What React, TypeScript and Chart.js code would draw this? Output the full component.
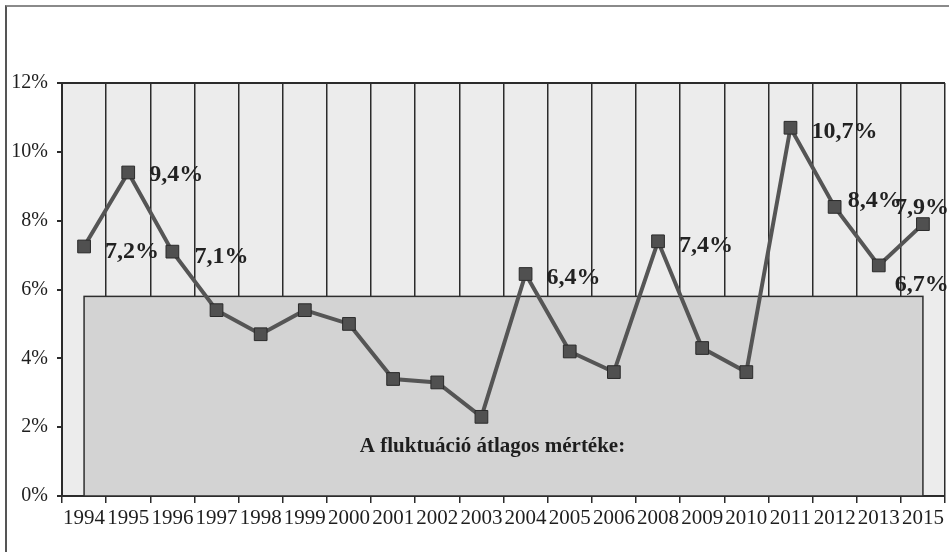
import { useEffect, useRef } from "react";
import { Chart, registerables } from "chart.js";

Chart.register(...registerables);

const YEARS = [
  "1994", "1995", "1996", "1997", "1998", "1999", "2000", "2001", "2002", "2003",
  "2004", "2005", "2006", "2008", "2009", "2010", "2011", "2012", "2013", "2015",
];
const RATES = [
  7.25, 9.4, 7.1, 5.4, 4.7, 5.4, 5.0, 3.4, 3.3, 2.3,
  6.45, 4.2, 3.6, 7.4, 4.3, 3.6, 10.7, 8.4, 6.7, 7.9,
];
const POINT_LABELS: (string | null)[] = [
  "7,2%", "9,4%", "7,1%", null, null, null, null, null, null, null,
  "6,4%", null, null, "7,4%", null, null, "10,7%", "8,4%", "6,7%", "7,9%",
];
const AVERAGE = 5.8;
const AVERAGE_LABEL = "A fluktuáció átlagos mértéke:";
const Y_TICKS = [0, 2, 4, 6, 8, 10, 12];

const SERIF = "'Liberation Serif', 'Times New Roman', serif";
const DEFAULT_OFFSET: [number, number] = [21, 4];
const LABEL_OFFSETS: Record<number, [number, number]> = {
  0: [21, 5],
  1: [21, 2],
  2: [22, 5],
  17: [13, -6],
  18: [16, 19],
  19: [-28, -16],
};

const decorPlugin = {
  id: "decor",
  beforeDraw(chart: any) {
    const { ctx, chartArea } = chart;
    ctx.save();
    ctx.fillStyle = "#ececec";
    ctx.fillRect(chartArea.left, chartArea.top, chartArea.right - chartArea.left, chartArea.bottom - chartArea.top);
    ctx.restore();
  },
  beforeDatasetsDraw(chart: any) {
    const { ctx } = chart;
    const x = chart.scales.x;
    const y = chart.scales.y;
    const x0 = x.getPixelForValue(0);
    const x1 = x.getPixelForValue(YEARS.length - 1);
    const yTop = y.getPixelForValue(AVERAGE);
    const yBot = y.getPixelForValue(0);
    ctx.save();
    ctx.fillStyle = "#d3d3d3";
    ctx.fillRect(x0, yTop, x1 - x0, yBot - yTop);
    ctx.strokeStyle = "#2e2e2e";
    ctx.lineWidth = 1.5;
    ctx.strokeRect(x0, yTop, x1 - x0, yBot - yTop);
    ctx.fillStyle = "#1e1e1e";
    ctx.font = `bold 21px ${SERIF}`;
    ctx.textAlign = "center";
    ctx.textBaseline = "middle";
    ctx.fillText(AVERAGE_LABEL, (x0 + x1) / 2 - 11, y.getPixelForValue(AVERAGE * 0.25));
    ctx.restore();
  },
  afterDatasetsDraw(chart: any) {
    const { ctx } = chart;
    const meta = chart.getDatasetMeta(0);
    ctx.save();
    ctx.fillStyle = "#222";
    ctx.font = `bold 24px ${SERIF}`;
    ctx.textAlign = "left";
    ctx.textBaseline = "middle";
    POINT_LABELS.forEach((lbl, i) => {
      if (!lbl) return;
      const pt = meta.data[i];
      const [dx, dy] = LABEL_OFFSETS[i] || DEFAULT_OFFSET;
      ctx.fillText(lbl, pt.x + dx, pt.y + dy);
    });
    ctx.restore();
  },
};

export default function App() {
  const ref = useRef<HTMLCanvasElement | null>(null);
  useEffect(() => {
    if (!ref.current) return;
    const chart = new Chart(ref.current, {
      type: "line",
      data: {
        labels: YEARS,
        datasets: [
          {
            data: RATES,
            borderColor: "#555555",
            borderWidth: 4,
            tension: 0,
            pointStyle: "rect",
            pointRadius: 9,
            pointHoverRadius: 9,
            pointBackgroundColor: "#505050",
            pointBorderColor: "#2a2a2a",
            pointBorderWidth: 1,
          },
        ],
      },
      options: {
        animation: false,
        responsive: false,
        devicePixelRatio: 1,
        layout: { padding: { top: 83, left: 0, right: 0, bottom: 0 } },
        plugins: { legend: { display: false }, tooltip: { enabled: false } },
        scales: {
          x: {
            offset: true,
            grid: {
              offset: true,
              color: "#2b2b2b",
              lineWidth: 1.5,
              tickLength: 7,
              tickColor: "#2b2b2b",
            },
            border: { color: "#2b2b2b", width: 2 },
            ticks: {
              autoSkip: false,
              maxRotation: 0,
              minRotation: 0,
              color: "#1e1e1e",
              font: { family: SERIF, size: 21 },
              padding: 3,
            },
            afterFit(scale: any) {
              scale.height = 56;
              scale.paddingLeft = 0;
              scale.paddingRight = 0;
            },
          },
          y: {
            min: 0,
            max: 12,
            afterBuildTicks(scale: any) {
              scale.ticks = Y_TICKS.map((v) => ({ value: v }));
            },
            grid: {
              color: (c: any) => (c.tick && c.tick.value === 12 ? "#2b2b2b" : "rgba(0,0,0,0)"),
              lineWidth: 2,
              tickLength: 5,
              tickColor: "#2b2b2b",
            },
            border: { color: "#2b2b2b", width: 2 },
            ticks: {
              color: "#1e1e1e",
              font: { family: SERIF, size: 20 },
              padding: 9,
              callback: (v: any) => `${v}%`,
            },
            afterFit(scale: any) {
              scale.width = 62;
              scale.paddingTop = 0;
              scale.paddingBottom = 0;
            },
          },
        },
      },
      plugins: [decorPlugin],
    } as any);
    return () => chart.destroy();
  }, []);
  return (
    <div
      style={{
        position: "fixed",
        left: 0,
        top: 0,
        width: 949,
        height: 552,
        background: "#fff",
        overflow: "hidden",
      }}
    >
      <div
        style={{
          position: "absolute",
          left: 5,
          top: 5,
          width: 944,
          height: 547,
          borderLeft: "2px solid #555",
          borderTop: "2px solid #8a8a8a",
          boxSizing: "border-box",
        }}
      />
      <canvas ref={ref} width={955} height={552} style={{ position: "absolute", left: 0, top: 0 }} />
    </div>
  );
}
